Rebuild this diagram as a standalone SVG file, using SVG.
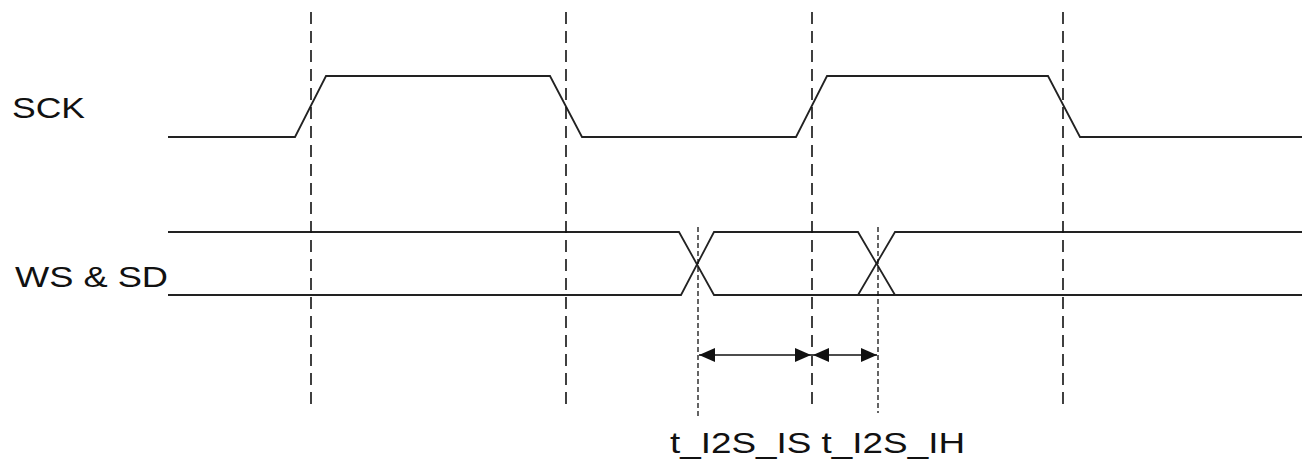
<svg xmlns="http://www.w3.org/2000/svg" width="1302" height="470" viewBox="0 0 1302 470">
<style>
.sig{fill:none;stroke:#222;stroke-width:1.8;stroke-linejoin:miter}
.dash{fill:none;stroke:#111;stroke-width:1.6;stroke-dasharray:12 7}
.dot{fill:none;stroke:#111;stroke-width:1.3;stroke-dasharray:5 3}
.dim{fill:none;stroke:#111;stroke-width:1.5}
.lbl{font-family:"Liberation Sans",Arial,sans-serif;font-size:30px;fill:#111}
</style>
<defs>
<marker id="ah" viewBox="0 0 16 14" refX="16" refY="7" markerWidth="16" markerHeight="14" markerUnits="userSpaceOnUse" orient="auto-start-reverse">
<path d="M0,0 L16,7 L0,14 Z" fill="#111"/>
</marker>
</defs>
<rect width="1302" height="470" fill="#fff"/>
<g id="labels">
<text class="lbl" x="12" y="118" textLength="73" lengthAdjust="spacingAndGlyphs">SCK</text>
<text class="lbl" x="15" y="287" textLength="153" lengthAdjust="spacingAndGlyphs">WS &amp; SD</text>
<text class="lbl" x="670" y="453" textLength="295" lengthAdjust="spacingAndGlyphs">t_I2S_IS t_I2S_IH</text>
</g>
<g id="sck">
<polyline class="sig" points="168,137 295,137 326,76 550,76 582,137 796,137 827,76 1048,76 1080,137 1302,137"/>
</g>
<g id="ws_sd">
<polyline class="sig" points="168,232 679,232 714,295 1302,295"/>
<polyline class="sig" points="168,295 681,295 714,232 858,232 895,295"/>
<polyline class="sig" points="858,295 895,232 1302,232"/>
</g>
<g id="connectors">
<line class="dash" x1="311" y1="12" x2="311" y2="406"/>
<line class="dash" x1="566" y1="12" x2="566" y2="406"/>
<line class="dash" x1="812" y1="12" x2="812" y2="408"/>
<line class="dash" x1="1063" y1="12" x2="1063" y2="408"/>
<line class="dot" x1="698" y1="227" x2="698" y2="418"/>
<line class="dot" x1="878" y1="227" x2="878" y2="413"/>
<line class="dim" x1="699" y1="355" x2="811" y2="355" marker-start="url(#ah)" marker-end="url(#ah)"/>
<line class="dim" x1="813" y1="355" x2="877" y2="355" marker-start="url(#ah)" marker-end="url(#ah)"/>
</g>
</svg>
